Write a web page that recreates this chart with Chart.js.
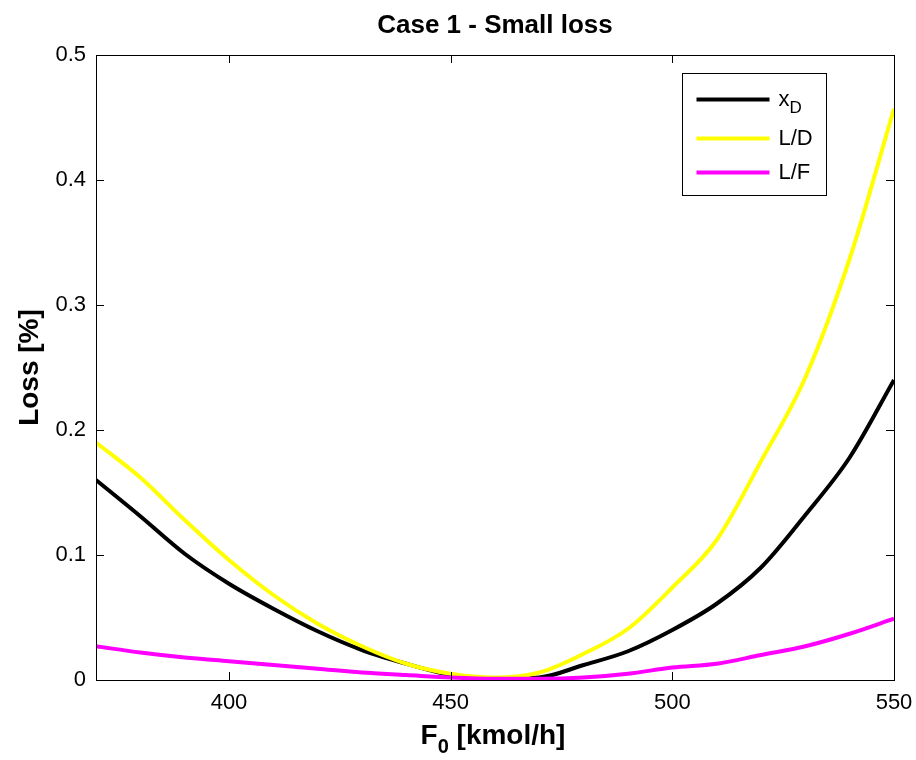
<!DOCTYPE html>
<html>
<head>
<meta charset="utf-8">
<script src="https://cdn.jsdelivr.net/npm/chart.js@4.4.1/dist/chart.umd.min.js"></script>
<style>
  html, body { margin: 0; padding: 0; background: #fff; }
  #caixa { width: 916px; height: 760px; }
</style>
</head>
<body>
<div id="caixa"><canvas id="grafico"></canvas></div>
<script>
// Vazão de alimentação F0 [kmol/h]
const f0 = [370, 380, 390, 400, 410, 420, 430, 440, 450, 460, 470, 480, 490, 500, 510, 520, 530, 540, 550];

// Perda [%] para cada variável controlada
const perdaXD = [0.160, 0.131, 0.101, 0.077, 0.057, 0.039, 0.024, 0.013, 0.004, 0.001, 0.002, 0.012, 0.023, 0.040, 0.061, 0.090, 0.132, 0.178, 0.240];
const perdaLD = [0.190, 0.162, 0.128, 0.096, 0.068, 0.045, 0.027, 0.013, 0.005, 0.002, 0.006, 0.021, 0.041, 0.074, 0.112, 0.175, 0.242, 0.337, 0.457];
const perdaLF = [0.027, 0.022, 0.018, 0.015, 0.012, 0.009, 0.006, 0.004, 0.002, 0.001, 0.001, 0.002, 0.005, 0.010, 0.013, 0.020, 0.027, 0.037, 0.049];

// Ticks dos eixos
const ticksX = [400, 450, 500, 550];
const ticksY = [0, 0.1, 0.2, 0.3, 0.4, 0.5];

const fonte = "'Liberation Sans', Arial, sans-serif";

const serie = (ys) => f0.map((x, i) => ({ x: x, y: ys[i] }));

// Moldura, ticks para dentro, títulos e legenda (estilo MATLAB)
const estiloMatlab = {
    id: 'estiloMatlab',
    afterDraw(chart) {
        const ctx = chart.ctx;
        const ca = chart.chartArea;
        const sx = chart.scales.x;
        const sy = chart.scales.y;
        const tam = 8;

        ctx.save();
        ctx.strokeStyle = '#000';
        ctx.lineWidth = 1;
        ctx.strokeRect(Math.round(ca.left) + 0.5, Math.round(ca.top) + 0.5,
            Math.round(ca.right - ca.left), Math.round(ca.bottom - ca.top));

        ctx.beginPath();
        ticksX.forEach(v => {
            const px = Math.round(sx.getPixelForValue(v)) + 0.5;
            ctx.moveTo(px, ca.bottom); ctx.lineTo(px, ca.bottom - tam);
            ctx.moveTo(px, ca.top); ctx.lineTo(px, ca.top + tam);
        });
        ticksY.forEach(v => {
            const py = Math.round(sy.getPixelForValue(v)) + 0.5;
            ctx.moveTo(ca.left, py); ctx.lineTo(ca.left + tam, py);
            ctx.moveTo(ca.right, py); ctx.lineTo(ca.right - tam, py);
        });
        ctx.stroke();

        // título
        const cx = (ca.left + ca.right) / 2;
        ctx.fillStyle = '#000';
        ctx.textAlign = 'center';
        ctx.textBaseline = 'alphabetic';
        ctx.font = 'bold 26px ' + fonte;
        ctx.fillText('Case 1 - Small loss', cx, 33);

        // título do eixo x: F0 [kmol/h]
        ctx.font = 'bold 28px ' + fonte;
        const tF = ctx.measureText('F').width;
        const tResto = ctx.measureText(' [kmol/h]').width;
        ctx.font = 'bold 20px ' + fonte;
        const tSub = ctx.measureText('0').width;
        let x0 = cx - 2 - (tF + tSub + tResto) / 2;
        ctx.textAlign = 'left';
        ctx.font = 'bold 28px ' + fonte;
        ctx.fillText('F', x0, 744);
        ctx.font = 'bold 20px ' + fonte;
        ctx.fillText('0', x0 + tF, 753);
        ctx.font = 'bold 28px ' + fonte;
        ctx.fillText(' [kmol/h]', x0 + tF + tSub, 744);

        // título do eixo y
        ctx.save();
        ctx.translate(38, (ca.top + ca.bottom) / 2);
        ctx.rotate(-Math.PI / 2);
        ctx.textAlign = 'center';
        ctx.fillText('Loss [%]', 0, 0);
        ctx.restore();

        // legenda
        const bx = Math.round(ca.right) - 211.5;
        const by = Math.round(ca.top) + 18.5;
        ctx.fillStyle = '#fff';
        ctx.fillRect(bx, by, 144, 122);
        ctx.strokeStyle = '#000';
        ctx.lineWidth = 1;
        ctx.strokeRect(bx, by, 144, 122);
        const itens = [
            { cor: '#000000', y: 26, txt: 'x', sub: 'D' },
            { cor: '#FFFF00', y: 65, txt: 'L/D' },
            { cor: '#FF00FF', y: 99, txt: 'L/F' }
        ];
        itens.forEach(it => {
            ctx.strokeStyle = it.cor;
            ctx.lineWidth = 4;
            ctx.beginPath();
            ctx.moveTo(bx + 14, by + it.y);
            ctx.lineTo(bx + 87, by + it.y);
            ctx.stroke();
            ctx.fillStyle = '#000';
            ctx.textBaseline = 'middle';
            ctx.font = '22px ' + fonte;
            ctx.fillText(it.txt, bx + 96, by + it.y);
            if (it.sub) {
                const w = ctx.measureText(it.txt).width;
                ctx.font = '17px ' + fonte;
                ctx.fillText(it.sub, bx + 96 + w, by + it.y + 9);
            }
        });
        ctx.restore();
    }
};

const ctx = document.getElementById('grafico').getContext('2d');

const grafico = new Chart(ctx, {
    type: 'line',
    data: {
        datasets: [
            { label: 'xD', data: serie(perdaXD), borderColor: '#000000', order: 3 },
            { label: 'L/D', data: serie(perdaLD), borderColor: '#FFFF00', order: 2 },
            { label: 'L/F', data: serie(perdaLF), borderColor: '#FF00FF', order: 1 }
        ]
    },
    options: {
        responsive: true,
        maintainAspectRatio: false,
        animation: false,
        devicePixelRatio: 1,
        elements: {
            line: { borderWidth: 4, cubicInterpolationMode: 'monotone', fill: false },
            point: { radius: 0 }
        },
        layout: { padding: { left: 0, top: 55, right: 22, bottom: 0 } },
        plugins: {
            legend: { display: false },
            title: { display: false },
            tooltip: { enabled: false }
        },
        scales: {
            x: {
                type: 'linear',
                min: 370,
                max: 550,
                afterBuildTicks: s => { s.ticks = ticksX.map(v => ({ value: v })); },
                afterFit: s => { s.height = 80; s.paddingLeft = 0; s.paddingRight = 0; },
                grid: { display: false, drawTicks: false },
                border: { display: false },
                ticks: { color: '#000', font: { family: fonte, size: 22 }, padding: 10, maxRotation: 0 }
            },
            y: {
                min: 0,
                max: 0.5,
                afterBuildTicks: s => { s.ticks = ticksY.map(v => ({ value: v })); },
                afterFit: s => { s.width = 96; s.paddingTop = 0; s.paddingBottom = 0; },
                grid: { display: false, drawTicks: false },
                border: { display: false },
                ticks: {
                    color: '#000',
                    font: { family: fonte, size: 22 },
                    padding: 10,
                    callback: v => v === 0 ? '0' : v.toFixed(1)
                }
            }
        }
    },
    plugins: [estiloMatlab]
});
</script>
</body>
</html>
